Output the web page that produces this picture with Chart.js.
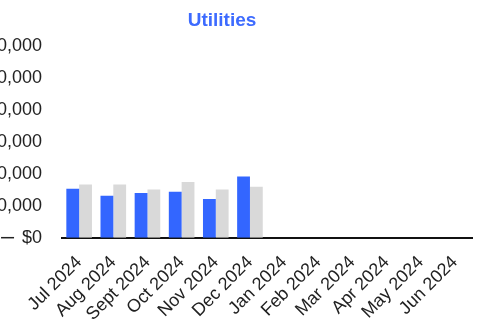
<!DOCTYPE html>
<html>
<head>
<meta charset="utf-8">
<script src="https://cdn.jsdelivr.net/npm/chart.js@4/dist/chart.umd.min.js"></script>
<style>
  html, body { margin: 0; padding: 0; background: #fff; overflow: hidden; }
  #wrap { position: absolute; left: -63px; top: 0; width: 562px; height: 326px; }
</style>
</head>
<body>
<div id="wrap"><canvas id="myChart"></canvas></div>
<script>
const months = ['Jul 2024', 'Aug 2024', 'Sept 2024', 'Oct 2024', 'Nov 2024', 'Dec 2024',
  'Jan 2024', 'Feb 2024', 'Mar 2024', 'Apr 2024', 'May 2024', 'Jun 2024']
const actual = [15300, 13100, 14000, 14400, 12100, 19100, null, null, null, null, null, null]
const budget = [16600, 16600, 15100, 17400, 15100, 15900, null, null, null, null, null, null]
const yTicks = [0, 10000, 20000, 30000, 40000, 50000, 60000]

const TICK_PAD = 20
const FONT = '"Liberation Sans", Arial, sans-serif'

// little dash that sits in front of the $0 label
const zeroDash = {
  id: 'zeroDash',
  afterDraw(chart) {
    const y = chart.scales.y
    const ctx = chart.ctx
    const py = y.getPixelForValue(0)
    ctx.save()
    ctx.font = '18px ' + FONT
    const w = ctx.measureText('$0').width
    const end = y.right - TICK_PAD - w - 8
    ctx.strokeStyle = '#222'
    ctx.lineWidth = 1.5
    ctx.beginPath()
    ctx.moveTo(end - 13, py)
    ctx.lineTo(end, py)
    ctx.stroke()
    ctx.restore()
  }
}

window.onload = () => {
  const ctx = document.getElementById('myChart')
  new Chart(ctx, {
    type: 'bar',
    data: {
      labels: months,
      datasets: [{
        label: 'Actual',
        data: actual,
        backgroundColor: '#3366ff',
        categoryPercentage: 0.75,
        barPercentage: 1
      }, {
        label: 'Budget',
        data: budget,
        backgroundColor: '#d9d9d9',
        categoryPercentage: 0.75,
        barPercentage: 1
      }]
    },
    plugins: [zeroDash],
    options: {
      responsive: true,
      maintainAspectRatio: false,
      animation: false,
      layout: { padding: { left: 20, right: 12, top: 0, bottom: 4 } },
      plugins: {
        legend: { display: false },
        tooltip: { enabled: false },
        title: {
          display: true,
          text: 'Utilities',
          color: '#3d6bff',
          font: { family: FONT, size: 19, weight: 'bold' },
          padding: { top: 9, bottom: 14 }
        }
      },
      scales: {
        x: {
          grid: { display: false, drawTicks: false },
          border: { display: true, color: '#111', width: 2 },
          ticks: {
            color: '#222',
            minRotation: 45,
            maxRotation: 45,
            autoSkip: false,
            padding: 14,
            font: { family: FONT, size: 18 }
          },
          // rotated labels reserve more room than they use
          afterFit: (s) => { s.height = s.height - 17 }
        },
        y: {
          min: 0,
          max: 60000,
          afterBuildTicks: (axis) => { axis.ticks = yTicks.map(v => ({ value: v })) },
          grid: { display: false, drawTicks: false },
          border: { display: false },
          ticks: {
            color: '#222',
            padding: TICK_PAD,
            font: { family: FONT, size: 18 },
            callback: (v) => '$' + Number(v).toLocaleString('en-US')
          }
        },
        // empty spacer on the right so the title sits a bit right of the canvas middle
        spacer: {
          position: 'right',
          min: 0,
          max: 1,
          grid: { display: false, drawTicks: false },
          border: { display: false },
          ticks: { display: false },
          afterFit: (s) => { s.width = 15 }
        }
      }
    }
  })
}
</script>
</body>
</html>
